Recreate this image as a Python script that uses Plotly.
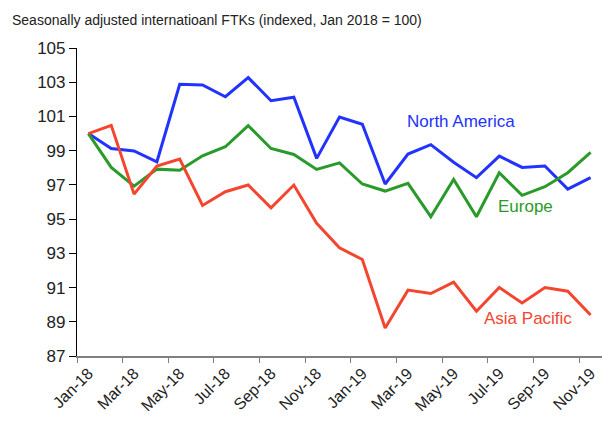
import plotly.graph_objects as go

months = ["Jan-18", "Feb-18", "Mar-18", "Apr-18", "May-18", "Jun-18", "Jul-18", "Aug-18",
          "Sep-18", "Oct-18", "Nov-18", "Dec-18", "Jan-19", "Feb-19", "Mar-19", "Apr-19",
          "May-19", "Jun-19", "Jul-19", "Aug-19", "Sep-19", "Oct-19", "Nov-19"]

north_america = [100.0, 99.13, 98.98, 98.35, 102.88, 102.84, 102.15, 103.27, 101.92, 102.12,
                 98.55, 100.96, 100.54, 97.05, 98.8, 99.35, 98.32, 97.42, 98.68, 98.02,
                 98.1, 96.75, 97.42]
europe = [100.0, 98.02, 96.93, 97.92, 97.85, 98.7, 99.23, 100.46, 99.13, 98.78,
          97.9, 98.29, 97.05, 96.64, 97.09, 95.14, 97.32, 95.14, 97.71, 96.39,
          96.89, 97.71, 98.9]
asia_pacific = [100.0, 100.48, 96.46, 98.1, 98.51, 95.8, 96.6, 96.99, 95.66, 96.99,
                94.75, 93.32, 92.64, 88.64, 90.85, 90.65, 91.32, 89.62, 91.0, 90.1,
                91.0, 90.79, 89.4]

y_ticks = [87, 89, 91, 93, 95, 97, 99, 101, 103, 105]
title_text = "Seasonally adjusted internatioanl FTKs (indexed, Jan 2018 = 100)"

series = [
    ("North America", north_america, "#2233ff"),
    ("Europe", europe, "#2a9a2a"),
    ("Asia Pacific", asia_pacific, "#f4452f"),
]

fig = go.Figure()
for name, vals, col in series:
    fig.add_trace(go.Scatter(x=months, y=vals, mode="lines", name=name,
                             line=dict(color=col, width=3), cliponaxis=False))

labels = [
    ("North America", 16.32, 100.69, "#2233ff"),
    ("Europe", 19.14, 95.72, "#2a9a2a"),
    ("Asia Pacific", 19.25, 89.19, "#f4452f"),
]
for txt, x, y, col in labels:
    fig.add_annotation(x=x, y=y, xref="x", yref="y", text=txt, showarrow=False,
                       font=dict(family="Liberation Sans", size=17, color=col))

fig.add_annotation(
    text=title_text, showarrow=False, xref="paper", yref="paper",
    x=-67 / 525, y=1 + 28 / 308, xanchor="left", yanchor="middle",
    font=dict(family="Liberation Sans", size=14, color="#222222"),
)

fig.update_layout(
    width=602, height=421,
    margin=dict(l=77, r=0, t=48, b=65, autoexpand=False),
    plot_bgcolor="white", paper_bgcolor="white",
    showlegend=False,
    font=dict(family="Liberation Sans", size=17, color="#222222"),
    xaxis=dict(
        type="category", tickmode="array", tickvals=months[::2], ticktext=months[::2],
        tickson="boundaries", ticks="outside", ticklen=5, tickcolor="#808080",
        showline=True, linecolor="#808080", linewidth=1.5, showgrid=False,
        tickangle=-45, range=[-0.5, 22.5], tickfont=dict(size=16), automargin=False,
    ),
    yaxis=dict(
        range=[87, 105], tickvals=y_ticks, ticks="outside", ticklen=7, tickcolor="black",
        showline=True, linecolor="black", linewidth=1.2, showgrid=False, zeroline=False,
        automargin=False,
    ),
)

fig.write_html("out.html", config={"displayModeBar": False},
               post_script="document.body.style.margin='0';")
